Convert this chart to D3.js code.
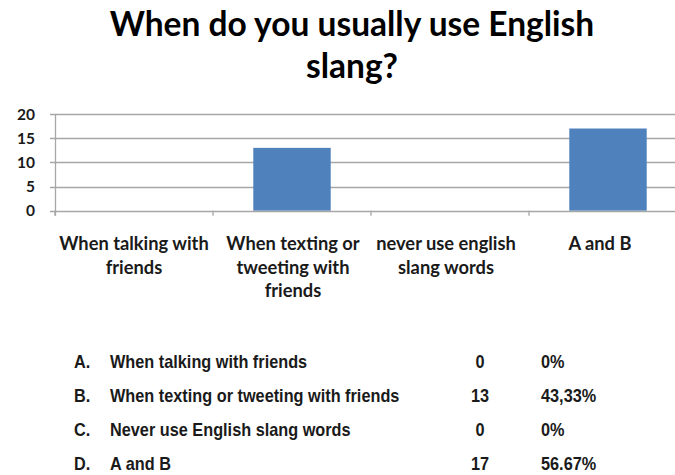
<!DOCTYPE html>
<html><head><meta charset="utf-8">
<script src="https://cdn.jsdelivr.net/npm/d3@7"></script>
<style>body{margin:0;background:#fff;} svg{display:block;}</style>
</head><body>
<div id="chart"></div>
<script>
const titleLines = ["When do you usually use English", "slang?"];
const categories = [["When talking  with", "friends"], ["When texting or", "tweeting with", "friends"], ["never use english", "slang words"], ["A and B"]];
const values = [0, 13, 0, 17];
const yTicks = [0, 5, 10, 15, 20];
const tableLetters = ["A.", "B.", "C.", "D."];
const tableLabels = ["When talking with friends", "When texting or tweeting with friends", "Never use English slang words", "A and B"];
const tableCounts = ["0", "13", "0", "17"];
const tablePercents = ["0%", "43,33%", "0%", "56.67%"];

const W = 675, H = 475;
const svg = d3.select("#chart").append("svg").attr("width", W).attr("height", H);
const titleFont = "Lato, 'Open Sans', sans-serif";

svg.selectAll("text.title").data(titleLines).enter().append("text")
  .attr("x", 352).attr("y", (d, i) => 36 + i * 42)
  .attr("text-anchor", "middle")
  .style("font-family", titleFont).style("font-weight", "bold").style("font-size", "33.5px")
  .attr("fill", "#000").text(d => d);

const x = d3.scaleBand().domain(d3.range(categories.length)).range([55, 687]).paddingInner(0).paddingOuter(0);
const y = d3.scaleLinear().domain([0, 20]).range([210.7, 114]);

// gridlines
svg.append("g").selectAll("line").data(yTicks.slice(1)).enter().append("line")
  .attr("x1", 50).attr("x2", W).attr("y1", d => Math.round(y(d)) + 0.5).attr("y2", d => Math.round(y(d)) + 0.5)
  .attr("stroke", "#a6a6a6").attr("stroke-width", 1.3);

// bars
svg.append("g").selectAll("rect").data(values).enter().append("rect")
  .attr("x", (d, i) => x(i) + x.bandwidth() * 0.255)
  .attr("width", x.bandwidth() * 0.49)
  .attr("y", d => y(d)).attr("height", d => y(0) - y(d))
  .attr("fill", "#4f81bd");

// x axis
const xAxisG = svg.append("g");
xAxisG.append("line").attr("x1", 50).attr("x2", W).attr("y1", Math.round(y(0)) + 0.5).attr("y2", Math.round(y(0)) + 0.5)
  .attr("stroke", "#a6a6a6").attr("stroke-width", 1.3);
xAxisG.selectAll("line.tk").data(d3.range(categories.length)).enter().append("line")
  .attr("x1", i => x(i)).attr("x2", i => x(i))
  .attr("y1", y(0)).attr("y2", y(0) + 5)
  .attr("stroke", "#a6a6a6").attr("stroke-width", 1.3);
// y axis line
svg.append("line").attr("x1", 55.5).attr("x2", 55.5).attr("y1", y(20)).attr("y2", y(0) + 5)
  .attr("stroke", "#a6a6a6").attr("stroke-width", 1.3);

// y tick labels
svg.append("g").selectAll("text").data(yTicks).enter().append("text")
  .attr("x", 35).attr("y", d => y(d) + 5.5).attr("text-anchor", "end")
  .style("font-family", titleFont).style("font-weight", "bold").style("font-size", "15.5px")
  .attr("fill", "#1a1a1a").text(d => d);

// category labels
const catShift = [0, 1, -4, -8];
const catG = svg.append("g");
categories.forEach((lines, i) => {
  catG.append("text")
    .attr("text-anchor", "middle")
    .style("font-family", titleFont).style("font-weight", "bold").style("font-size", "18.3px")
    .attr("fill", "#1a1a1a")
    .selectAll("tspan").data(lines).enter().append("tspan")
    .attr("x", x(i) + x.bandwidth() / 2 + catShift[i])
    .attr("y", (d, j) => 250 + j * 23.5)
    .text(d => d);
});

// table
const tableFont = "'Liberation Sans', Arial, sans-serif";
const tg = svg.append("g").style("font-family", tableFont).style("font-weight", "bold").style("font-size", "17.7px").attr("fill", "#1a1a1a");
const rowY = i => 367.7 + i * 34;
const sx = 0.92;
function tt(xp, yp, txt, anchor) {
  tg.append("text").attr("transform", `translate(${xp},${yp}) scale(${sx},1)`)
    .attr("text-anchor", anchor || "start").text(txt);
}
tableLetters.forEach((l, i) => {
  tt(74, rowY(i), l);
  tt(110, rowY(i), tableLabels[i]);
  tt(480, rowY(i), tableCounts[i], "middle");
  tt(541, rowY(i), tablePercents[i]);
});
</script>
</body></html>
